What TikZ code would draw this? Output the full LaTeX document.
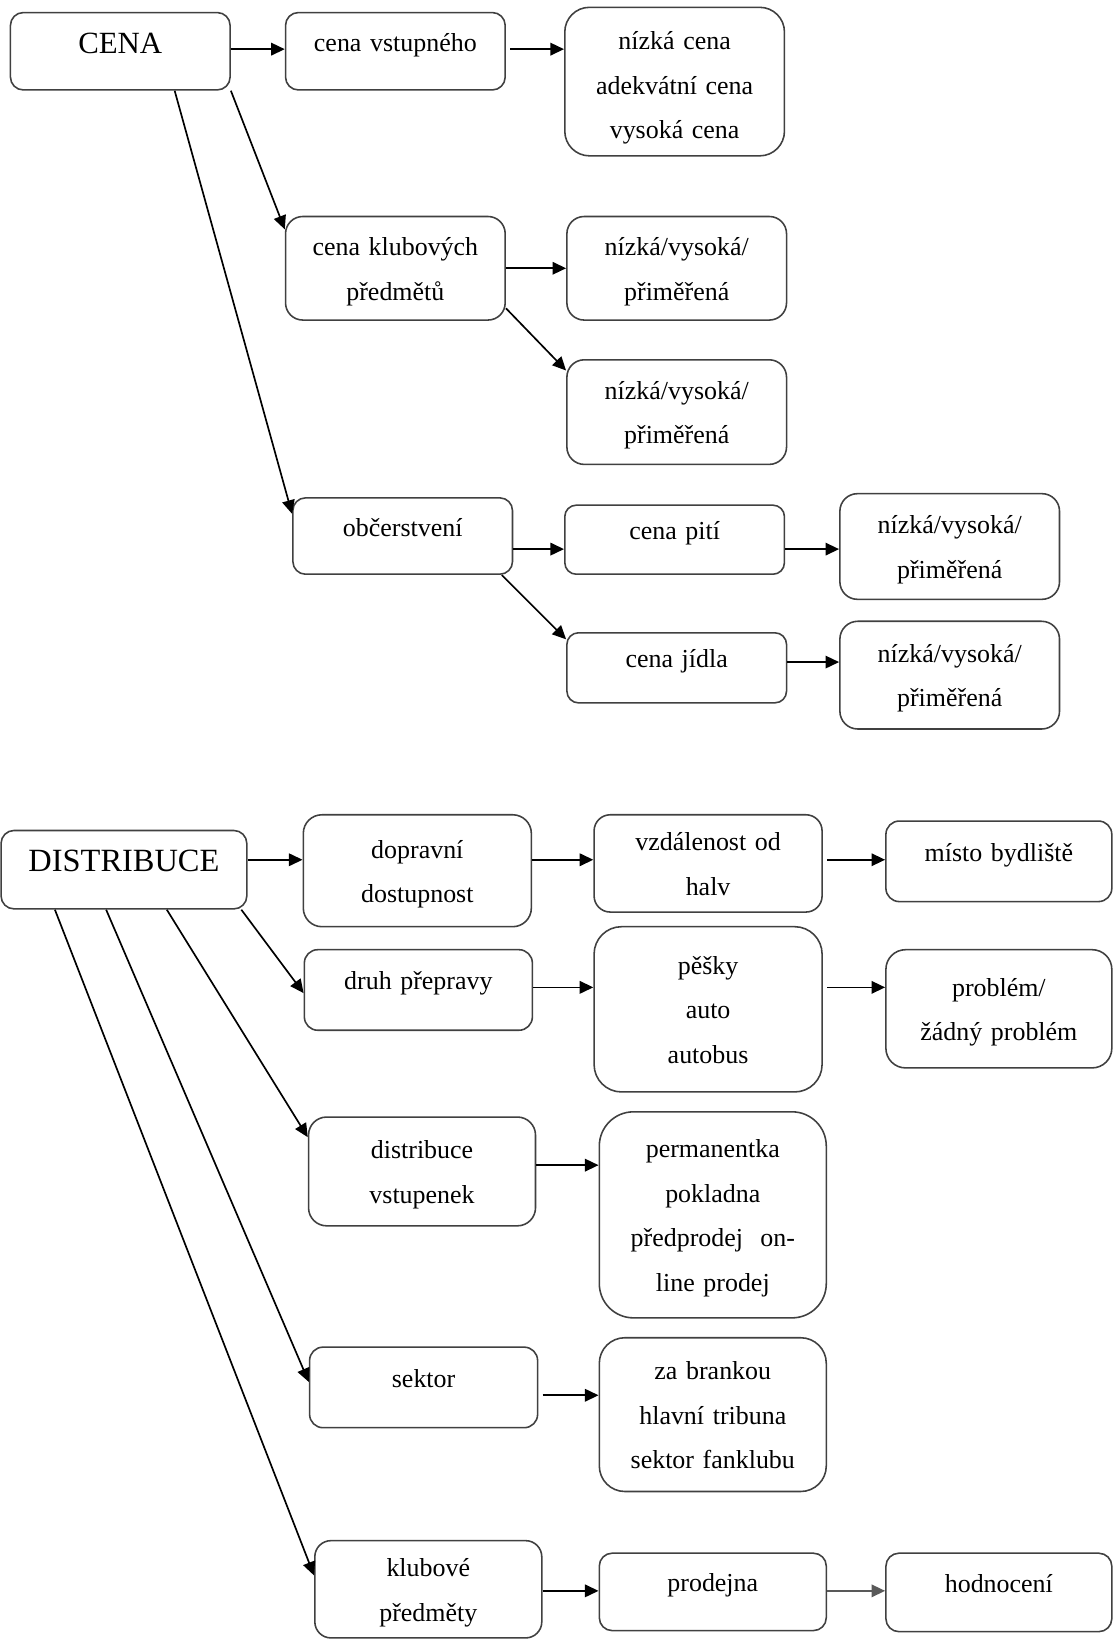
\documentclass[tikz,border=0pt]{standalone}
\usepackage{fontspec}
\setmainfont{Liberation Serif}
\usetikzlibrary{arrows.meta}

\newcommand\bodyfont{\fontsize{24.8pt}{42.5pt}\selectfont}

\tikzset{
  box/.style={draw=black!75, line width=1.5pt, inner sep=0pt, align=center,
              font=\bodyfont, text=black},
  wh/.style 2 args={minimum width=#1pt, minimum height=#2pt, text width=#1pt,
              rounded corners={0.166*min(#1,#2)*1pt}},
  title/.style={font=\fontsize{#1}{#1}\selectfont, text height=22pt, text depth=18pt},
  l1/.style={text height=20pt, text depth=20pt},
  l2/.style={text height=20.5pt, text depth=44.6pt},
  l3/.style={text height=20.5pt, text depth=87.1pt},
  l4/.style={text height=20.5pt, text depth=129.6pt},
  arr/.style={line width=1.6pt, draw=black, -{Triangle[length=13pt,width=12pt]}},
}

\begin{document}
\begin{tikzpicture}[x=1pt, y=-1pt]
\useasboundingbox (0,0) rectangle (1064,1568);
\fill[white] (0,0) rectangle (1064,1568);

% ---------- CENA ----------
\node[box,title=29.5pt,wh={210}{74}] (cena) at (115,49) {CENA};
\node[box,l1,wh={210}{74}] (vstup) at (378,49) {cena vstupného};
\node[box,l3,wh={210}{142},text height=23.5pt,text depth=84.1pt] (cenyA) at (645,78) {nízká cena\\adekvátní cena\\vysoká cena};
\node[box,l2,wh={210}{99}] (klub) at (378,256.5) {cena klubových\\předmětů};
\node[box,l2,wh={210}{99}] (klubA) at (647,256.5) {nízká/vysoká/\\přiměřená};
\node[box,l2,wh={210}{100}] (klubB) at (647,394) {nízká/vysoká/\\přiměřená};
\node[box,l1,wh={210}{73}] (obc) at (385,512.5) {občerstvení};
\node[box,l1,wh={210}{66}] (piti) at (645,516) {cena pití};
\node[box,l2,wh={210}{101}] (pitiA) at (908,522.5) {nízká/vysoká/\\přiměřená};
\node[box,l1,wh={210}{67}] (jidlo) at (647,638.5) {cena jídla};
\node[box,l2,wh={210}{103}] (jidloA) at (908,645.5) {nízká/vysoká/\\přiměřená};

\coordinate (h1) at (0,47);
\coordinate (h2) at (0,525);
\coordinate (h3) at (0,633);

\draw[arr] (cena.east |- h1) -- (vstup.west |- h1);
\draw[arr, shorten <=4pt] (vstup.east |- h1) -- (cenyA.west |- h1);
\draw[arr] (cena.south east) -- ([yshift=-13pt]klub.north west);
\draw[arr] ([xshift=52pt]cena.south) -- ([yshift=-16pt]obc.north west);
\draw[arr] (klub.east) -- (klub.east -| klubA.west);
\draw[arr] ([yshift=12pt]klub.south east) -- ([yshift=-11pt]klubB.north west);
\draw[arr] (obc.east |- h2) -- (piti.west |- h2);
\draw[arr] (piti.east |- h2) -- (pitiA.west |- h2);
\draw[arr] ([xshift=-11pt]obc.south east) -- ([yshift=-7pt]jidlo.north west);
\draw[arr] (jidlo.east |- h3) -- (jidloA.west |- h3);

% ---------- DISTRIBUCE ----------
\node[box,title=31pt,wh={235}{75}] (dist) at (118.5,831.5) {DISTRIBUCE};
\node[box,l2,wh={218}{107}] (doprava) at (399,832.5) {dopravní\\dostupnost};
\node[box,l2,wh={218}{93}] (vzdal) at (677,825.5) {vzdálenost od\\halv};
\node[box,l1,wh={216}{77}] (misto) at (955,823.5) {místo bydliště};
\node[box,l1,wh={218}{77}] (druh) at (400,946.5) {druh přepravy};
\node[box,l3,wh={218}{158}] (zpusob) at (677,965) {pěšky\\auto\\autobus};
\node[box,l2,wh={216}{113}] (problem) at (955,964.5) {problém/\\žádný problém};
\node[box,l2,wh={217}{104}] (vstupenky) at (403.5,1120) {distribuce\\vstupenek};
\node[box,l4,wh={217}{197}] (prodej) at (681.5,1161.5) {permanentka\\pokladna\\předprodej~ on-\\line prodej};
\node[box,l1,wh={218}{77}] (sektor) at (405,1326.5) {sektor};
\node[box,l3,wh={217}{147}] (mista) at (681.5,1352.5) {za brankou\\hlavní tribuna\\sektor fanklubu};
\node[box,l2,wh={217}{93}] (predmety) at (409.5,1519.5) {klubové\\předměty};
\node[box,l1,wh={217}{74}] (prodejna) at (681.5,1522) {prodejna};
\node[box,l1,wh={216}{75}] (hodnoceni) at (955,1522.5) {hodnocení};

\coordinate (h4) at (0,822);
\coordinate (h5) at (0,944);
\coordinate (h6) at (0,1114);
\coordinate (h7) at (0,1334);
\coordinate (h8) at (0,1521);

\draw[arr] (dist.east |- h4) -- (doprava.west |- h4);
\draw[arr] (doprava.east |- h4) -- (vzdal.west |- h4);
\draw[arr, shorten <=4pt] (vzdal.east |- h4) -- (misto.west |- h4);
\draw[arr] ([xshift=-6pt]dist.south east) -- ([yshift=-3pt]druh.west);
\draw[arr] (druh.east |- h5) -- (zpusob.west |- h5);
\draw[arr, shorten <=4pt] (zpusob.east |- h5) -- (problem.west |- h5);
\draw[arr] ([xshift=41pt]dist.south) -- ([yshift=-20pt]vstupenky.north west);
\draw[arr] (vstupenky.east |- h6) -- (prodej.west |- h6);
\draw[arr] ([xshift=-17pt]dist.south) -- ([yshift=-34pt]sektor.north west);
\draw[arr, shorten <=4pt] (sektor.east |- h7) -- (mista.west |- h7);
\draw[arr] ([xshift=-66pt]dist.south) -- ([yshift=-34pt]predmety.north west);
\draw[arr] (predmety.east |- h8) -- (prodejna.west |- h8);
\draw[arr, draw=black!65] (prodejna.east |- h8) -- (hodnoceni.west |- h8);
\end{tikzpicture}
\end{document}
